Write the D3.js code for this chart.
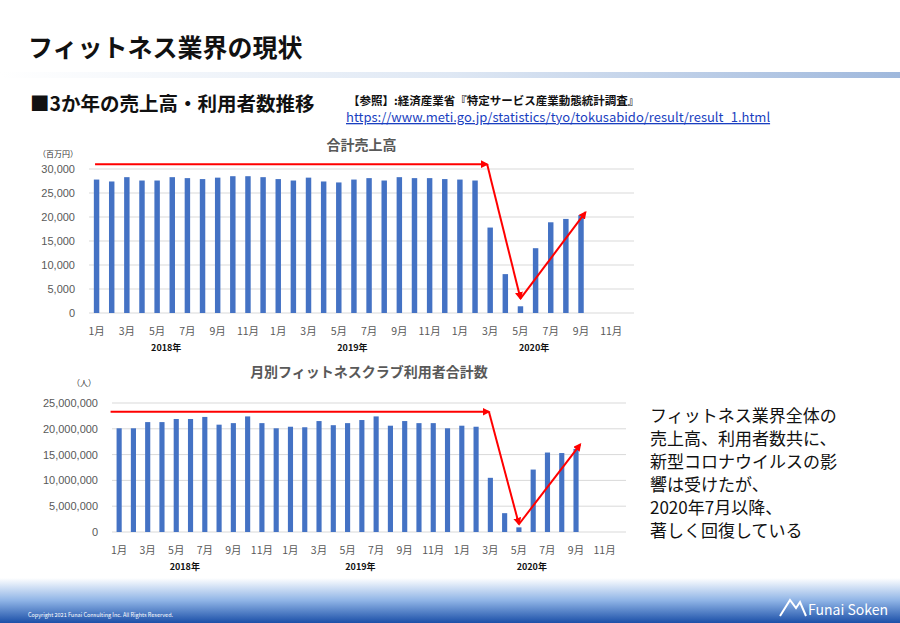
<!DOCTYPE html>
<html><head><meta charset="utf-8">
<script src="https://cdn.jsdelivr.net/npm/d3@7"></script>
<style>body{margin:0;background:#fff;font-family:"Noto Sans CJK JP","Noto Sans",sans-serif}</style>
</head><body><svg id="c" width="900" height="623"></svg>
<script>
var months = []
for (var y = 0; y < 3; y++) for (var m = 1; m <= 12; m++) months.push(y + "-" + m)
var monthLabels = ["1月","3月","5月","7月","9月","11月"]
var yearLabels = ["2018年","2019年","2020年"]
var yearAt = [4.6, 16.9, 28.9]
// 合計売上高 (百万円), 2018/1 - 2020/9
var sales = [27800,27400,28300,27600,27600,28300,28100,27900,28200,28500,28500,28300,
  27900,27600,28200,27400,27200,27800,28100,27600,28300,28100,28100,27900,
  27800,27600,17800,8100,1400,13500,18900,19600,20400]
// 利用者数 (人)
var users = [20100000,20100000,21300000,21300000,21900000,21900000,22300000,20800000,21100000,22400000,21100000,20100000,
  20400000,20300000,21500000,20700000,21100000,21700000,22400000,20600000,21500000,21100000,21100000,20100000,
  20600000,20400000,10500000,3650000,900000,12100000,15400000,15300000,16100000]
// 矢印 [月index, 値]
var salesArrow = [[-0.1,31000],[25.8,31000],[28,3000],[32.3,21000]]
var usersArrow = [[-0.6,23300000],[25.9,23300000],[28,1500000],[32.3,17000000]]
var noteLines = ["フィットネス業界全体の","売上高、利用者数共に、","新型コロナウイルスの影","響は受けたが、","2020年7月以降、","著しく回復している"]

var svg = d3.select("#c")
var defs = svg.append("defs")
defs.append("marker").attr("id","ah").attr("viewBox","0 0 10 10").attr("refX",8).attr("refY",5)
  .attr("markerWidth",4).attr("markerHeight",4).attr("orient","auto")
  .append("path").attr("d","M0,0L10,5L0,10z").attr("fill","#ff0000")
var g1 = defs.append("linearGradient").attr("id","hl")
g1.append("stop").attr("offset","0").attr("stop-color","#fff")
g1.append("stop").attr("offset","0.5").attr("stop-color","#dfe8f4")
g1.append("stop").attr("offset","1").attr("stop-color","#9fb8dc")
var g2 = defs.append("linearGradient").attr("id","ft").attr("x1",0).attr("y1",0).attr("x2",0).attr("y2",1)
g2.append("stop").attr("offset","0").attr("stop-color","#ffffff")
g2.append("stop").attr("offset","0.5").attr("stop-color","#8fb4e6")
g2.append("stop").attr("offset","1").attr("stop-color","#1b4fa8")

// header
svg.append("text").attr("x",28).attr("y",57).attr("font-size",25).attr("font-weight","bold").attr("fill","#111").text("フィットネス業界の現状")
svg.append("rect").attr("x",0).attr("y",72).attr("width",900).attr("height",6).attr("fill","url(#hl)")
svg.append("text").attr("x",30).attr("y",111).attr("font-size",19.5).attr("font-weight","bold").attr("fill","#111").text("■3か年の売上高・利用者数推移")
svg.append("text").attr("x",348).attr("y",105).attr("font-size",11.5).attr("font-weight","bold").attr("fill","#111").text("【参照】:経済産業省『特定サービス産業動態統計調査』")
svg.append("text").attr("x",346).attr("y",122).attr("font-size",13).attr("fill","#1a3fc0").attr("text-decoration","underline").text("https://www.meti.go.jp/statistics/tyo/tokusabido/result/result_1.html")

function chart(o) {
  var x = d3.scaleBand().domain(months).range([o.x0, o.x1]).paddingInner(0.64).paddingOuter(0.32)
  var y = d3.scaleLinear().domain([0, o.max]).range([o.y0, o.y1])
  var g = svg.append("g")
  g.append("text").attr("x",(o.x0+o.x1)/2).attr("y",o.titleY).attr("text-anchor","middle")
    .attr("font-size",14).attr("font-weight","bold").attr("fill","#595959").text(o.title)
  g.append("text").attr("x",o.unitX).attr("y",o.unitY).attr("font-size",8).attr("fill","#333").text(o.unit)
  var ticks = d3.range(0, o.max + 1, o.step)
  g.selectAll(".gl").data(ticks).join("line")
    .attr("x1",o.x0).attr("x2",o.x1).attr("y1",d => y(d)).attr("y2",d => y(d))
    .attr("stroke","#d9d9d9").attr("stroke-width",1)
  g.selectAll(".tl").data(ticks).join("text")
    .attr("x",o.x0 - 14).attr("y",d => y(d) + 4).attr("text-anchor","end")
    .attr("font-size",11).attr("fill","#595959").attr("font-family","Liberation Sans,sans-serif")
    .text(d3.format(","))
  g.selectAll(".bar").data(o.values).join("rect")
    .attr("x",(d,i) => x(months[i])).attr("width",x.bandwidth())
    .attr("y",d => y(d)).attr("height",d => y(0) - y(d)).attr("fill","#4472c4")
  months.forEach(function(m, i) {
    if (i % 2 == 0) g.append("text").attr("x",x(m) + x.bandwidth()/2).attr("y",o.y0 + 22)
      .attr("text-anchor","middle").attr("font-size",10.5).attr("fill","#595959").text(monthLabels[(i % 12) / 2])
  })
  var step = x.step()
  var pos = d => x(months[0]) + x.bandwidth()/2 + d[0] * step
  yearLabels.forEach(function(t, k) {
    g.append("text").attr("x",pos([yearAt[k]])).attr("y",o.y0 + 38)
      .attr("text-anchor","middle").attr("font-size",9).attr("font-weight","bold").attr("fill","#111").text(t)
  })
  for (var i = 0; i < o.arrow.length - 1; i++) {
    var a = o.arrow[i], b = o.arrow[i+1]
    g.append("line").attr("x1",pos(a)).attr("y1",y(a[1])).attr("x2",pos(b)).attr("y2",y(b[1]))
      .attr("stroke","#ff0000").attr("stroke-width",2).attr("marker-end","url(#ah)")
  }
}
chart({x0:89,x1:634,y0:313,y1:169,max:30000,step:5000,values:sales,arrow:salesArrow,
  title:"合計売上高",titleY:150,unit:"（百万円）",unitX:38,unitY:157})
chart({x0:112,x1:626,y0:532,y1:403,max:25000000,step:5000000,values:users,arrow:usersArrow,
  title:"月別フィットネスクラブ利用者合計数",titleY:377,unit:"（人）",unitX:72,unitY:386})

svg.selectAll(".note").data(noteLines).join("text")
  .attr("x",650).attr("y",(d,i) => 422 + i * 23).attr("font-size",17).attr("fill","#111").text(d => d)

// footer
svg.append("rect").attr("x",0).attr("y",578).attr("width",900).attr("height",45).attr("fill","url(#ft)")
svg.append("text").attr("x",28).attr("y",617).attr("font-size",5.5).attr("fill","#fff")
  .text("Copyright 2021 Funai Consulting Inc. All Rights Reserved.")
svg.append("path").attr("d","M780,616 L790,600 L796,608 L800,602 L806,616").attr("fill","none").attr("stroke","#fff").attr("stroke-width",2)
svg.append("text").attr("x",808).attr("y",615).attr("font-size",14).attr("fill","#fff").text("Funai Soken")
</script></body></html>
